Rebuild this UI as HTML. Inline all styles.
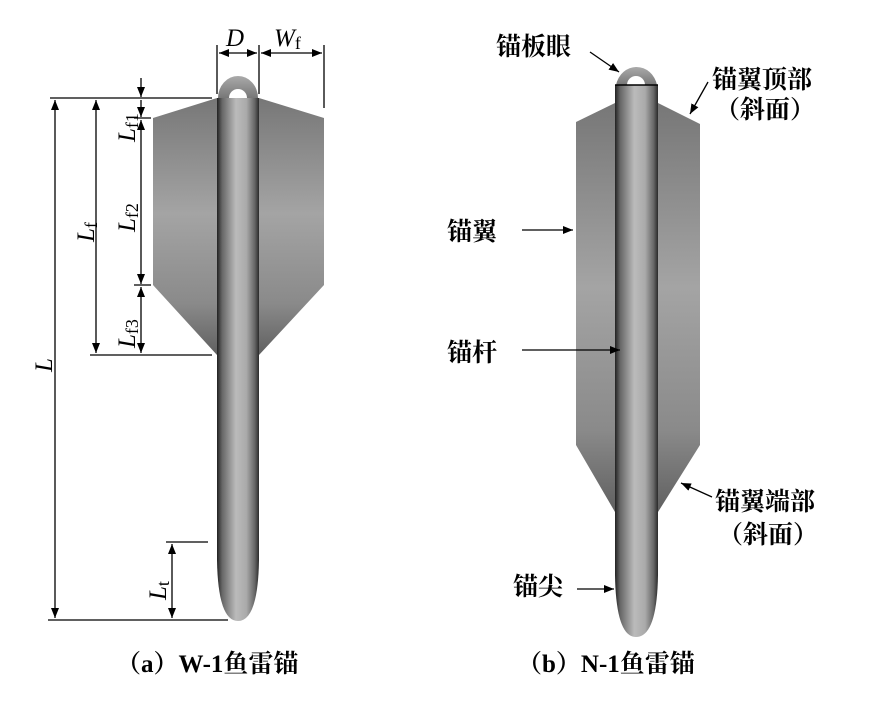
<!DOCTYPE html>
<html><head><meta charset="utf-8"><style>
body{margin:0;background:#fff}
svg{display:block}
text{font-family:"Liberation Serif","Noto Serif CJK SC",serif;fill:#000}
.cn{font-family:"Liberation Serif","Noto Serif CJK SC",serif;font-weight:bold;font-size:25px}
</style></head><body>
<svg width="876" height="712" viewBox="0 0 876 712" xmlns="http://www.w3.org/2000/svg">
<defs>
<linearGradient id="rod" x1="0" x2="1" y1="0" y2="0">
<stop offset="0" stop-color="#222"/><stop offset="0.12" stop-color="#666"/><stop offset="0.45" stop-color="#bbb"/><stop offset="0.7" stop-color="#aaa"/><stop offset="0.9" stop-color="#666"/><stop offset="1" stop-color="#2a2a2a"/>
</linearGradient>
<linearGradient id="fin" x1="0" x2="0" y1="0" y2="1">
<stop offset="0" stop-color="#777"/><stop offset="0.45" stop-color="#a4a4a4"/><stop offset="0.8" stop-color="#8a8a8a"/><stop offset="1" stop-color="#606060"/>
</linearGradient>
<linearGradient id="eye" x1="0" x2="0" y1="0" y2="1">
<stop offset="0" stop-color="#aaa"/><stop offset="1" stop-color="#777"/>
</linearGradient>
<marker id="ar" markerWidth="10" markerHeight="8" refX="10" refY="4" orient="auto" markerUnits="userSpaceOnUse">
<path d="M0,0 L10,4 L0,8 Z" fill="#000"/></marker>
<marker id="al" markerWidth="10" markerHeight="8" refX="0" refY="4" orient="auto" markerUnits="userSpaceOnUse">
<path d="M10,0 L0,4 L10,8 Z" fill="#000"/></marker>
</defs>

<!-- (a) -->
<path d="M217,98 L153,118 L153,285 L217,355 Z M259,98 L324,118 L324,285 L259,355 Z" fill="url(#fin)"/>
<path d="M218,98 A20,22 0 0 1 258,98 Z" fill="url(#eye)"/>
<path d="M229,98 A9,9 0 0 1 247,98 Z" fill="#fff"/>
<path d="M217,98 L259,98 L259,560 Q258,621 238,621 Q218,621 217,560 Z" fill="url(#rod)"/>
<g stroke="#000" stroke-width="1.3" fill="none">
<line x1="50" y1="98" x2="212" y2="98"/>
<line x1="90" y1="355" x2="212" y2="355"/>
<line x1="48" y1="620" x2="228" y2="620"/>
<line x1="134" y1="118" x2="151" y2="118"/>
<line x1="134" y1="285" x2="151" y2="285"/>
<line x1="166" y1="542" x2="208" y2="542"/>
<line x1="217" y1="45" x2="217" y2="94"/>
<line x1="259" y1="45" x2="259" y2="94"/>
<line x1="324" y1="45" x2="324" y2="108"/>
<line x1="55" y1="100" x2="55" y2="618" marker-start="url(#al)" marker-end="url(#ar)"/>
<line x1="96" y1="100" x2="96" y2="353" marker-start="url(#al)" marker-end="url(#ar)"/>
<line x1="141" y1="78" x2="141" y2="97" marker-end="url(#ar)"/>
<line x1="141" y1="100" x2="141" y2="117" marker-end="url(#ar)"/>
<line x1="141" y1="120" x2="141" y2="284" marker-start="url(#al)" marker-end="url(#ar)"/>
<line x1="141" y1="287" x2="141" y2="353" marker-start="url(#al)" marker-end="url(#ar)"/>
<line x1="172" y1="544" x2="172" y2="618" marker-start="url(#al)" marker-end="url(#ar)"/>
<line x1="219" y1="53" x2="257" y2="53" marker-start="url(#al)" marker-end="url(#ar)"/>
<line x1="261" y1="53" x2="322" y2="53" marker-start="url(#al)" marker-end="url(#ar)"/>
</g>
<text x="226" y="46" font-size="25" font-style="italic">D</text>
<text x="274" y="46" font-size="25" font-style="italic">W<tspan font-style="normal" font-size="18" dy="3">f</tspan></text>
<g font-size="25">
<text transform="translate(52,372) rotate(-90)" font-style="italic">L</text>
<text transform="translate(94,242) rotate(-90)" font-style="italic">L<tspan font-style="normal" font-size="18" dy="3">f</tspan></text>
<text transform="translate(135,142) rotate(-90)" font-style="italic">L<tspan font-style="normal" font-size="18" dy="3">f1</tspan></text>
<text transform="translate(135,232) rotate(-90)" font-style="italic">L<tspan font-style="normal" font-size="18" dy="3">f2</tspan></text>
<text transform="translate(135,348) rotate(-90)" font-style="italic">L<tspan font-style="normal" font-size="18" dy="3">f3</tspan></text>
<text transform="translate(166,600) rotate(-90)" font-style="italic">L<tspan font-style="normal" font-size="18" dy="3">t</tspan></text>
</g>
<text class="cn" x="116" y="672">（a）W-1鱼雷锚</text>

<!-- (b) -->
<path d="M615,103 L576,122 L576,445 L615,512 Z M658,103 L700,124 L700,445 L658,512 Z" fill="url(#fin)"/>
<path d="M616,85 A21,23 0 0 1 657,85 Z" fill="url(#eye)"/>
<path d="M627,85 A9,9 0 0 1 645,85 Z" fill="#fff"/>
<path d="M615,85 L658,85 L658,575 Q657,637 636,637 Q616,637 615,575 Z" fill="url(#rod)"/>
<line x1="615" y1="85" x2="658" y2="85" stroke="#000" stroke-width="1.5"/>
<g stroke="#000" stroke-width="1.3" fill="none">
<line x1="590" y1="52" x2="619" y2="72" marker-end="url(#ar)"/>
<line x1="708" y1="82" x2="690" y2="114" marker-end="url(#ar)"/>
<line x1="522" y1="230" x2="573" y2="230" marker-end="url(#ar)"/>
<line x1="522" y1="350" x2="620" y2="350" marker-end="url(#ar)"/>
<line x1="712" y1="497" x2="681" y2="483" marker-end="url(#ar)"/>
<line x1="577" y1="589" x2="614" y2="589" marker-end="url(#ar)"/>
</g>
<text class="cn" x="496" y="55">锚板眼</text>
<text class="cn" x="712" y="88">锚翼顶部</text>
<text class="cn" x="715" y="118">（斜面）</text>
<text class="cn" x="447" y="240">锚翼</text>
<text class="cn" x="447" y="361">锚杆</text>
<text class="cn" x="715" y="510">锚翼端部</text>
<text class="cn" x="718" y="543">（斜面）</text>
<text class="cn" x="513" y="595">锚尖</text>
<text class="cn" x="517" y="672">（b）N-1鱼雷锚</text>
</svg>
</body></html>
